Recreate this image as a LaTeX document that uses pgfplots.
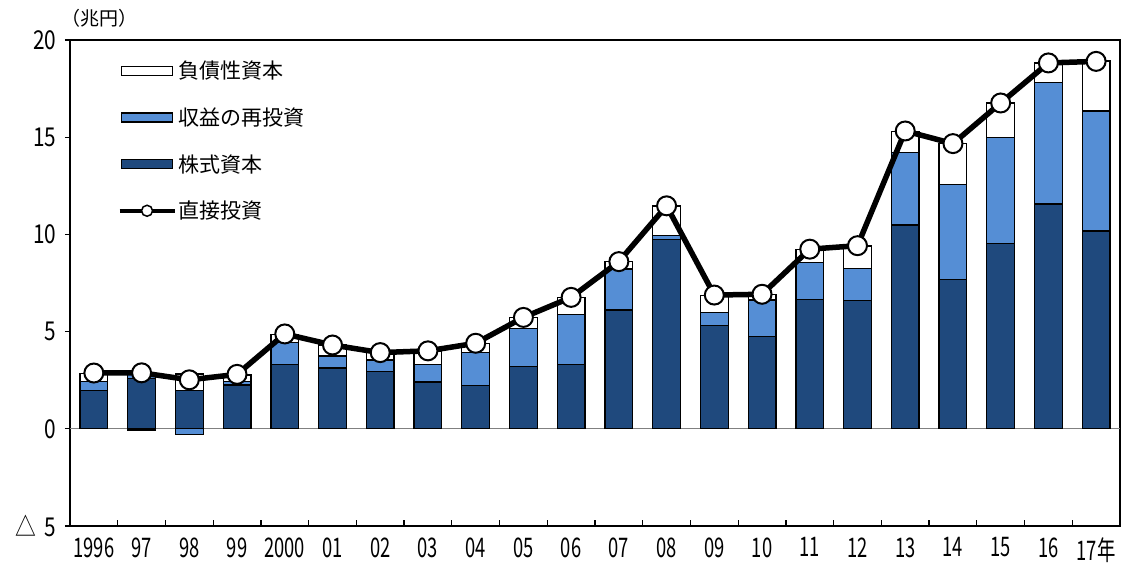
\documentclass[border=0pt]{standalone}
\usepackage{fontspec}
\setmainfont{Noto Sans CJK JP}
\newfontfamily\xnumfont[FakeStretch=0.68]{Noto Sans CJK JP}
\newfontfamily\ynumfont[FakeStretch=0.8]{Noto Sans CJK JP}
\usepackage{pgfplots}
\pgfplotsset{compat=1.18}
\usepackage{pgfplotstable}
\definecolor{darkb}{RGB}{31,73,125}
\definecolor{midb}{RGB}{85,142,213}

% positive parts of the stacked bars (negative parts drawn separately)
\pgfplotstableread{
x eq re debt
0 1.97 0.48 0.41
1 2.57 0.30 0.00
2 1.97 0.00 0.85
3 2.26 0.19 0.32
4 3.29 1.14 0.43
5 3.13 0.62 0.56
6 2.96 0.58 0.38
7 2.40 0.92 0.68
8 2.24 1.68 0.48
9 3.20 1.97 0.55
10 3.32 2.57 0.87
11 6.11 2.11 0.38
12 9.74 0.22 1.50
13 5.31 0.68 0.87
14 4.74 1.89 0.29
15 6.66 1.88 0.68
16 6.59 1.66 1.15
17 10.48 3.73 1.10
18 7.69 4.89 2.09
19 9.54 5.44 1.78
20 11.56 6.25 1.00
21 10.17 6.18 2.57
}\stacktable

\pgfplotstableread{
x total
0 2.87
1 2.88
2 2.52
3 2.80
4 4.88
5 4.31
6 3.92
7 4.01
8 4.40
9 5.73
10 6.76
11 8.60
12 11.47
13 6.88
14 6.92
15 9.24
16 9.42
17 15.32
18 14.67
19 16.76
20 18.82
21 18.90
}\linetable

\begin{document}
\begin{tikzpicture}
\useasboundingbox (-70pt,-39pt) rectangle (1056pt,526pt);
\begin{axis}[
  at={(0pt,0pt)}, anchor=south west,
  scale only axis, width=1050pt, height=486pt,
  xmin=-0.5, xmax=21.5, ymin=-5, ymax=20,
  ybar stacked, bar width=0.58,
  axis line style={line width=1.5pt},
  ytick={-5,0,5,10,15,20}, yticklabels={△\hspace{9pt}5,0,5,10,15,20},
  ytick pos=left, tick align=outside, major tick length=5pt,
  tick style={black, line width=1.2pt},
  xtick={0,...,21},
  xticklabels={1996,97,98,99,2000,01,02,03,04,05,06,07,08,09,10,11,12,13,14,15,16,17年},
  major x tick style={draw=none},
  xtick pos=left,
  xticklabel style={font=\xnumfont\fontsize{27}{30}\selectfont, yshift=-3pt},
  yticklabel style={font=\ynumfont\fontsize{26}{30}\selectfont, xshift=-5pt},
  /pgf/number format/assume math mode=true,
  extra y ticks={0}, extra y tick labels={},
  extra y tick style={grid=major, major grid style={gray, line width=1pt}},
]
\addplot[fill=darkb, draw=black, line width=1.3pt] table[x=x,y=eq]{\stacktable};
\addplot[fill=midb, draw=black, line width=1.3pt] table[x=x,y=re]{\stacktable};
\addplot[fill=white, draw=black, line width=1.3pt] table[x=x,y=debt]{\stacktable};
\end{axis}
\begin{axis}[
  at={(0pt,0pt)}, anchor=south west,
  scale only axis, width=1050pt, height=486pt,
  xmin=-0.5, xmax=21.5, ymin=-5, ymax=20,
  axis line style={draw=none},
  ytick=\empty,
  xtick={0.5,1.5,...,20.5}, xticklabels={},
  xtick pos=left, tick align=inside, major tick length=6pt,
  tick style={black, line width=1.2pt},
  legend style={at={(0.042,0.965)}, anchor=north west, draw=none, fill=none,
    font=\fontsize{21}{24}\selectfont, row sep=23.5pt},
  legend cell align=left,
]
\draw[line width=2.5pt] (rel axis cs:0,0) -- (rel axis cs:1,0);
\addplot[ybar, bar width=0.58, bar shift=0pt, fill=white, draw=black, line width=1.3pt, forget plot] coordinates {(1,-0.06)};
\addplot[ybar, bar width=0.58, bar shift=0pt, fill=midb, draw=black, line width=1.3pt, forget plot] coordinates {(2,-0.31)};
\addlegendimage{legend image code/.code={\draw[fill=white,draw=black,line width=1.3pt] (0pt,-4.5pt) rectangle (51pt,4.5pt);}}
\addlegendentry{負債性資本}
\addlegendimage{legend image code/.code={\draw[fill=midb,draw=black,line width=1.3pt] (0pt,-4.5pt) rectangle (51pt,4.5pt);}}
\addlegendentry{収益の再投資}
\addlegendimage{legend image code/.code={\draw[fill=darkb,draw=black,line width=1.3pt] (0pt,-4.5pt) rectangle (51pt,4.5pt);}}
\addlegendentry{株式資本}
\addplot[black, line width=5.5pt, mark=*, mark size=9.5pt,
  mark options={fill=white, draw=black, line width=2pt},
  legend image code/.code={\draw[black,line width=4.5pt] (-2pt,0pt) -- (53pt,0pt);
    \draw[fill=white,draw=black,line width=1.5pt] (25.5pt,0pt) circle (5.5pt);}]
  table[x=x,y=total]{\linetable};
\addlegendentry{直接投資}
\end{axis}
\node[font=\fontsize{19}{22}\selectfont] at (30pt,508pt) {（兆円）};
\end{tikzpicture}
\end{document}
